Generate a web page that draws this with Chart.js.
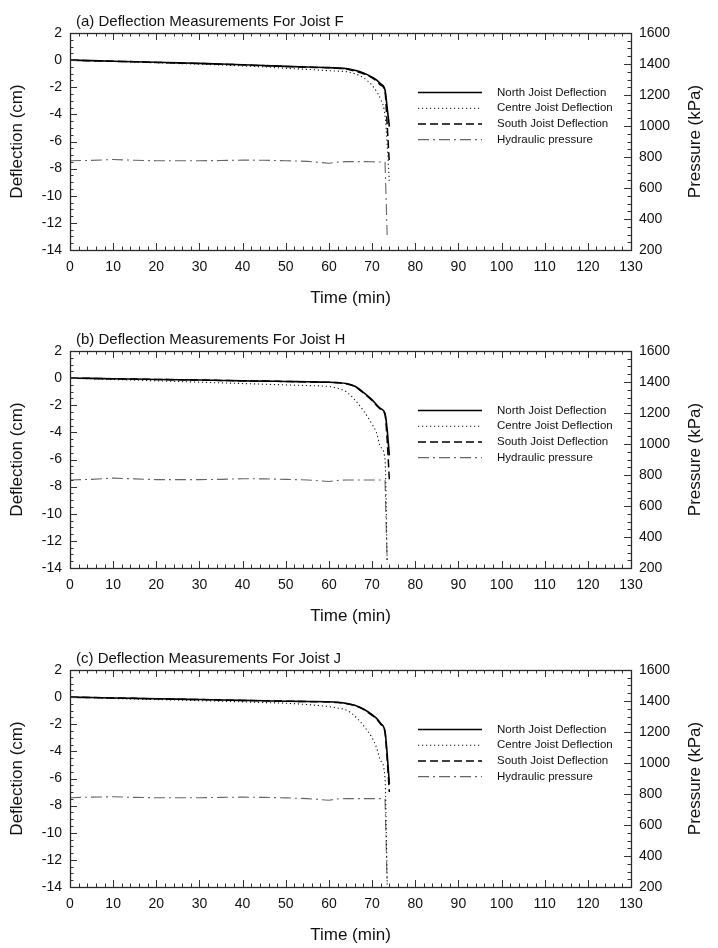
<!DOCTYPE html>
<html>
<head>
<meta charset="utf-8">
<script src="https://cdn.jsdelivr.net/npm/chart.js@4.4.1/dist/chart.umd.min.js"></script>
<style>
  html, body { margin: 0; padding: 0; background: #fff; overflow: hidden; }
  #page { position: relative; width: 718px; height: 948px; }
  canvas { position: absolute; left: 0; }
</style>
</head>
<body>
<div id="page">
  <canvas id="chart-a" width="718" height="319" style="top:0px;width:718px;height:319px"></canvas>
  <canvas id="chart-b" width="718" height="319" style="top:318px;width:718px;height:319px"></canvas>
  <canvas id="chart-c" width="718" height="319" style="top:637px;width:718px;height:319px"></canvas>
</div>
<script>
// time base (min), shared by every panel
const timeMin = [0, 5, 10, 15, 20, 25, 30, 35, 40, 45, 50, 55, 60, 62, 64, 66, 68, 70, 71, 72, 73, 73.5, 74];

const seriesLabels = ['North Joist Deflection', 'Centre Joist Deflection', 'South Joist Deflection', 'Hydraulic pressure'];
const panelTitles = [
  '(a) Deflection Measurements For Joist F',
  '(b) Deflection Measurements For Joist H',
  '(c) Deflection Measurements For Joist J'
];

// (a) joist F - deflection in cm, pressure in kPa
const northF = [0, -0.04, -0.08, -0.12, -0.16, -0.2, -0.24, -0.29, -0.34, -0.4, -0.46, -0.51, -0.55, -0.58, -0.62, -0.75, -0.95, -1.25, -1.45, -1.75, -2.2, -3.5, -4.9];
const centreF = [0, -0.05, -0.1, -0.15, -0.2, -0.25, -0.3, -0.36, -0.43, -0.5, -0.6, -0.68, -0.78, -0.81, -0.85, -1.0, -1.3, -1.85, -2.3, -2.9, -4.1, -6.2, -9.0];
const southF = [0, -0.04, -0.08, -0.12, -0.17, -0.21, -0.25, -0.3, -0.35, -0.41, -0.47, -0.52, -0.57, -0.6, -0.65, -0.8, -1.0, -1.3, -1.52, -1.85, -2.35, -4.8, -7.6];
const pressureF = [776, 778, 784, 779, 776, 776, 776, 777, 780, 779, 776, 772, 760, 767, 770, 770, 770, 769, 768, 768, 766, 297, null];

// (b) joist H
const northH = [0, -0.02, -0.05, -0.07, -0.1, -0.12, -0.14, -0.17, -0.2, -0.22, -0.25, -0.27, -0.3, -0.33, -0.4, -0.6, -1.05, -1.6, -1.95, -2.25, -2.6, -3.8, -5.7];
const centreH = [0, -0.05, -0.1, -0.15, -0.2, -0.25, -0.3, -0.35, -0.4, -0.45, -0.5, -0.55, -0.62, -0.75, -1.0, -1.6, -2.4, -3.4, -4.0, -5.1, -6.0, -13.6, null];
const southH = [0, -0.02, -0.05, -0.07, -0.1, -0.12, -0.14, -0.17, -0.2, -0.22, -0.25, -0.28, -0.31, -0.34, -0.42, -0.62, -1.1, -1.65, -2.0, -2.3, -2.7, -4.6, -7.5];
const pressureH = [768, 772, 780, 775, 770, 770, 770, 772, 776, 775, 772, 768, 758, 765, 768, 768, 768, 768, 768, 768, 766, 225, null];

// (c) joist J
const northJ = [0, -0.03, -0.06, -0.09, -0.12, -0.15, -0.18, -0.21, -0.24, -0.27, -0.3, -0.32, -0.34, -0.38, -0.46, -0.6, -0.88, -1.3, -1.55, -1.95, -2.55, -4.2, -6.4];
const centreJ = [0, -0.05, -0.1, -0.14, -0.18, -0.22, -0.26, -0.3, -0.35, -0.4, -0.45, -0.55, -0.7, -0.8, -0.95, -1.4, -2.1, -3.0, -3.7, -4.7, -6.0, -13.7, null];
const southJ = [0, -0.03, -0.06, -0.09, -0.12, -0.15, -0.18, -0.21, -0.24, -0.27, -0.3, -0.33, -0.36, -0.4, -0.48, -0.62, -0.9, -1.35, -1.6, -2.0, -2.6, -4.6, -7.0];
const pressureJ = [776, 780, 782, 778, 776, 776, 776, 778, 780, 778, 775, 770, 760, 768, 770, 770, 770, 770, 770, 770, 768, 215, null];

const FONT = "'Liberation Sans', Arial, Helvetica, sans-serif";
const TEXT = '#111';
Chart.defaults.font.family = FONT;
Chart.defaults.color = TEXT;

function points(times, values) {
  return times.map((t, i) => ({ x: t, y: values[i] }));
}

// frame, inward ticks (major + minor), panel title, legend, right axis title
const decorations = {
  id: 'decorations',
  afterDatasetsDraw(chart, args, opts) {
    const { ctx, chartArea: a, scales } = chart;
    ctx.save();
    ctx.strokeStyle = '#333';
    ctx.lineWidth = 1;

    const tick = (x1, y1, x2, y2) => {
      ctx.beginPath();
      ctx.moveTo(x1, y1);
      ctx.lineTo(x2, y2);
      ctx.stroke();
    };

    // x ticks every 2, major every 10
    for (let i = 0; i <= 65; i++) {
      const x = Math.round(scales.x.getPixelForValue(i * 2)) + 0.5;
      const len = i % 5 === 0 ? 7 : 3.5;
      tick(x, a.bottom, x, a.bottom - len);
      tick(x, a.top, x, a.top + len);
    }
    // left axis every 0.5, major every 2
    for (let i = 0; i <= 32; i++) {
      const y = Math.round(scales.y.getPixelForValue(-14 + i * 0.5)) + 0.5;
      const len = i % 4 === 0 ? 7 : 3.5;
      tick(a.left, y, a.left + len, y);
    }
    // right axis every 50, major every 200
    for (let i = 0; i <= 28; i++) {
      const y = Math.round(scales.y1.getPixelForValue(200 + i * 50)) + 0.5;
      const len = i % 4 === 0 ? 7 : 3.5;
      tick(a.right, y, a.right - len, y);
    }

    // frame
    ctx.lineWidth = 1.3;
    ctx.strokeStyle = '#2a2a2a';
    ctx.strokeRect(a.left + 0.5, a.top + 0.5, a.right - a.left, a.bottom - a.top);

    // panel title
    ctx.fillStyle = TEXT;
    ctx.font = '15px ' + FONT;
    ctx.textAlign = 'left';
    ctx.textBaseline = 'alphabetic';
    ctx.fillText(opts.title, 76, 26);

    // right axis title, reading bottom to top
    ctx.save();
    ctx.translate(695, (a.top + a.bottom) / 2);
    ctx.rotate(-Math.PI / 2);
    ctx.font = '17px ' + FONT;
    ctx.textAlign = 'center';
    ctx.textBaseline = 'middle';
    ctx.fillText('Pressure (kPa)', 0, 0);
    ctx.restore();

    // legend
    ctx.font = '11.5px ' + FONT;
    ctx.textBaseline = 'middle';
    chart.data.datasets.forEach((ds, i) => {
      const y = 92.5 + i * 15.7;
      ctx.save();
      ctx.strokeStyle = ds.borderColor;
      ctx.lineWidth = ds.borderWidth;
      ctx.setLineDash(ds.borderDash || []);
      ctx.beginPath();
      ctx.moveTo(418, y);
      ctx.lineTo(482, y);
      ctx.stroke();
      ctx.restore();
      ctx.fillStyle = TEXT;
      ctx.fillText(ds.label, 497, y);
    });

    ctx.restore();
  }
};

function makePanel(canvasId, title, north, centre, south, pressure) {
  const ctx = document.getElementById(canvasId);
  return new Chart(ctx, {
    type: 'line',
    data: {
      datasets: [
        {
          label: seriesLabels[0],
          data: points(timeMin, north),
          borderColor: '#000',
          borderWidth: 1.6,
          yAxisID: 'y'
        },
        {
          label: seriesLabels[1],
          data: points(timeMin, centre),
          borderColor: '#111',
          borderWidth: 1.1,
          borderDash: [1.2, 2.8],
          yAxisID: 'y'
        },
        {
          label: seriesLabels[2],
          data: points(timeMin, south),
          borderColor: '#000',
          borderWidth: 1.5,
          borderDash: [8, 4],
          yAxisID: 'y'
        },
        {
          label: seriesLabels[3],
          data: points(timeMin, pressure),
          borderColor: '#666',
          borderWidth: 1.1,
          borderDash: [11, 4, 2, 4],
          cubicInterpolationMode: 'default',
          tension: 0,
          yAxisID: 'y1'
        }
      ]
    },
    options: {
      responsive: false,
      animation: false,
      devicePixelRatio: 1,
      events: [],
      layout: { padding: { top: 33, left: 0, right: 0, bottom: 0 } },
      elements: {
        point: { radius: 0 },
        line: { cubicInterpolationMode: 'monotone', fill: false }
      },
      plugins: {
        legend: { display: false },
        title: { display: false },
        tooltip: { enabled: false },
        decorations: { title: title }
      },
      scales: {
        x: {
          type: 'linear',
          min: 0,
          max: 130,
          afterFit: (scale) => { scale.height = 69; },
          grid: { display: false, drawTicks: false },
          border: { display: false },
          ticks: {
            stepSize: 10,
            padding: 9,
            maxRotation: 0,
            autoSkip: false,
            font: { size: 14 },
            color: TEXT
          },
          title: {
            display: true,
            text: 'Time (min)',
            font: { size: 17 },
            color: TEXT,
            padding: { top: 0, bottom: 10 }
          }
        },
        y: {
          type: 'linear',
          position: 'left',
          min: -14,
          max: 2,
          afterFit: (scale) => { scale.width = 70; },
          grid: { display: false, drawTicks: false },
          border: { display: false },
          ticks: {
            stepSize: 2,
            padding: 8,
            font: { size: 14 },
            color: TEXT,
            callback: (v) => String(v)
          },
          title: {
            display: true,
            text: 'Deflection (cm)',
            font: { size: 17 },
            color: TEXT,
            padding: { top: 7, bottom: 0 }
          }
        },
        y1: {
          type: 'linear',
          position: 'right',
          min: 200,
          max: 1600,
          afterFit: (scale) => { scale.width = 87; },
          grid: { display: false, drawTicks: false },
          border: { display: false },
          ticks: {
            stepSize: 200,
            padding: 8,
            font: { size: 14 },
            color: TEXT,
            callback: (v) => String(v)
          }
        }
      }
    },
    plugins: [decorations]
  });
}

makePanel('chart-a', panelTitles[0], northF, centreF, southF, pressureF);
makePanel('chart-b', panelTitles[1], northH, centreH, southH, pressureH);
makePanel('chart-c', panelTitles[2], northJ, centreJ, southJ, pressureJ);
</script>
</body>
</html>
